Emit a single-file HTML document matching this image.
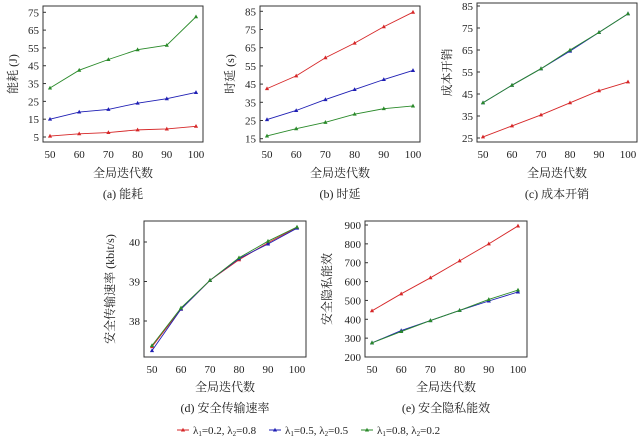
<!DOCTYPE html>
<html><head><meta charset="utf-8"><style>
html,body{margin:0;padding:0;background:#fff;width:640px;height:440px;overflow:hidden}
svg text{font-family:"Liberation Serif","Noto Serif CJK SC",serif;fill:#222}
</style></head><body>
<svg id="s" width="640" height="440" xmlns="http://www.w3.org/2000/svg"></svg>
<script>
const S=document.getElementById('s');let h='';
const C=['#d62728','#1f1fb4','#2a8a2a'];
function tri(x,y,c){return `<path d="M${x},${y-2.3}L${x+2.1},${y+1.5}L${x-2.1},${y+1.5}Z" fill="${c}"/>`;}
function plot(p){
 const {L,R,T,B,x50,x100,y0v,y0p,y1v,y1p,ticks,data,ylab,xlabY,cap,capY}=p;
 const X=v=>x50+(v-50)*(x100-x50)/50, Y=v=>y0p+(v-y0v)*(y1p-y0p)/(y1v-y0v);
 h+=`<rect x="${L}" y="${T}" width="${R-L}" height="${B-T}" fill="none" stroke="#333" stroke-width="1"/>`;
 ticks.forEach(t=>{const y=Y(t);h+=`<line x1="${L}" x2="${L+3}" y1="${y}" y2="${y}" stroke="#333"/><text x="${L-4}" y="${y+4}" font-size="11" text-anchor="end">${t}</text>`});
 [50,60,70,80,90,100].forEach(v=>{h+=`<text x="${X(v)}" y="${B+16}" font-size="11" text-anchor="middle">${v}</text>`});
 data.forEach((d,i)=>{if(!d)return;const pts=d.map((v,j)=>[X(50+10*j),Y(v)]);
  h+=`<polyline points="${pts.map(p=>p.join(',')).join(' ')}" fill="none" stroke="${C[i]}" stroke-width="0.9"/>`;
  pts.forEach(p=>h+=tri(p[0],p[1],C[i]));});
 const cx=(L+R)/2;
 h+=`<text x="${cx}" y="${xlabY}" font-size="12" text-anchor="middle">全局迭代数</text>`;
 h+=`<text x="${cx}" y="${capY}" font-size="12" text-anchor="middle">${cap}</text>`;
 h+=`<text transform="translate(${L-(p.yoff||26)},${(T+B)/2}) rotate(-90)" font-size="12" text-anchor="middle">${ylab}</text>`;
}
plot({L:43,R:203,T:6,B:142,x50:50,x100:196,y0v:5,y0p:137,y1v:75,y1p:12.3,ticks:[5,15,25,35,45,55,65,75],
 data:[[5.5,6.8,7.5,9,9.5,11],[15,19,20.5,24,26.5,30],[32.5,42.5,48.5,54,56.5,72.5]],ylab:'能耗 (J)',xlabY:177,cap:'(a) 能耗',capY:198});
plot({L:260,R:420,T:6,B:142,x50:267,x100:413,y0v:15,y0p:138.7,y1v:85,y1p:11.3,ticks:[15,25,35,45,55,65,75,85],
 data:[[42.5,49.5,59.5,67.5,76.5,84.5],[25.5,30.5,36.5,42,47.5,52.5],[16.5,20.5,24,28.5,31.5,33]],ylab:'时延 (s)',xlabY:177,cap:'(b) 时延',capY:198});
plot({L:477,R:637,T:3,B:142,x50:483,x100:628,y0v:25,y0p:138,y1v:85,y1p:6,ticks:[25,35,45,55,65,75,85],
 data:[[25.5,30.5,35.5,41,46.5,50.5],[41,49,56.5,64.5,73,81.5],[41,49,56.5,65,73,81.5]],ylab:'成本开销',xlabY:177,cap:'(c) 成本开销',capY:198});
plot({L:144,R:306,T:221,B:357,x50:152,x100:297,y0v:38,y0p:321,y1v:40,y1p:242,ticks:[38,39,40],
 data:[[37.35,38.3,39.03,39.55,39.98,40.37],[37.25,38.3,39.03,39.58,39.95,40.35],[37.38,38.33,39.03,39.6,40.02,40.38]],ylab:'安全传输速率 (kbit/s)',yoff:30,xlabY:391,cap:'(d) 安全传输速率',capY:412});
plot({L:365,R:527,T:221,B:357,x50:372,x100:518,y0v:200,y0p:357,y1v:900,y1p:225,ticks:[200,300,400,500,600,700,800,900],
 data:[[445,535,620,710,800,895],[275,340,393,447,497,545],[275,335,393,447,505,555]],ylab:'安全隐私能效',yoff:34,xlabY:391,cap:'(e) 安全隐私能效',capY:412});
const lg=[[183,'0.2','0.8'],[275,'0.5','0.5'],[367,'0.8','0.2']];
lg.forEach((l,i)=>{const x=l[0],y=430;h+=`<line x1="${x-6}" x2="${x+6}" y1="${y}" y2="${y}" stroke="${C[i]}"/>`+tri(x,y,C[i]);
 h+=`<text x="${x+10}" y="${y+4}" font-size="11">λ<tspan font-size="7" dy="2">1</tspan><tspan dy="-2">=${l[1]}, λ</tspan><tspan font-size="7" dy="2">2</tspan><tspan dy="-2">=${l[2]}</tspan></text>`;});
S.innerHTML=h;
</script>
</body></html>
